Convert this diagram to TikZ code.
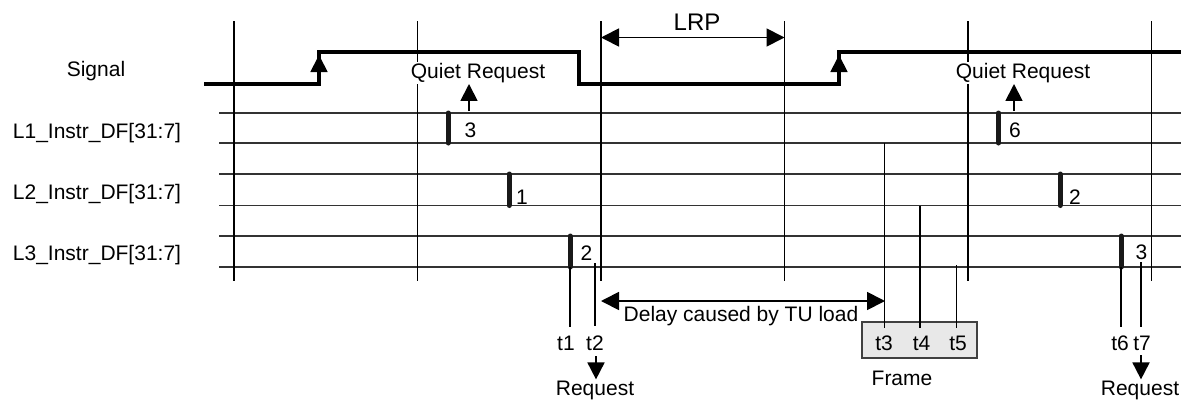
\documentclass[tikz,border=0pt]{standalone}
\usepackage{fontspec}
\setmainfont{Liberation Sans}
\usepackage{tikz}
\usetikzlibrary{arrows.meta, positioning}

\tikzset{
    lbl/.style={font=\fontsize{21}{25}\selectfont, inner sep=1pt},
    gridline/.style={line width=1.8pt},
    lane/.style={line width=1.8pt, black!80},
    sig/.style={line width=4pt, line join=miter},
    pulse/.style={line width=5pt, line cap=round, black!90},
    tip/.style={-{Triangle[width=17pt, length=17pt]}, line width=1.8pt},
    dtip/.style={{Triangle[width=18pt, length=18pt]}-{Triangle[width=18pt, length=18pt]}, line width=1.8pt},
}

\begin{document}
\begin{tikzpicture}[x=1pt, y=-1pt]
    \useasboundingbox (0,0) rectangle (1181,402);

    % 通道线
    \foreach \y in {113, 143, 174, 205.5, 236, 267}
        \draw[lane] (219,\y) -- (1181,\y);

    % 竖直网格
    \foreach \x in {234, 417.5, 601, 784.5, 968, 1151.5}
        \draw[gridline] (\x,21) -- (\x,281);

    % 左侧标签
    \node[lbl] (sig) at (96,71) {Signal};
    \node[lbl] (l1) at (97,133) {L1\_Instr\_DF[31:7]};
    \node[lbl] (l2) at (97,194) {L2\_Instr\_DF[31:7]};
    \node[lbl] (l3) at (97,255) {L3\_Instr\_DF[31:7]};

    % 信号
    \draw[sig] (204,84) -- (319,84) -- (319,52) -- (579,52) -- (579,84)
        -- (839,84) -- (839,52) -- (1181,52);
    \draw[tip] (319,80) -- (319,55);
    \draw[tip] (839,80) -- (839,55);

    % LRP
    \draw[dtip] (601,37.5) -- (784.5,37.5);
    \node[font=\fontsize{24}{28}\selectfont] (lrp) at (697,22.5) {LRP};

    % Quiet Request
    \node[lbl, fill=white] (qr1) at (478,73) {Quiet Request};
    \node[lbl, fill=white] (qr2) at (1023,73) {Quiet Request};
    \coordinate (q1) at (469,111);
    \coordinate (q2) at (1014,111);
    \draw[tip] (q1) -- (q1 |- qr1.south);
    \draw[tip] (q2) -- (q2 |- qr2.south);

    % 脉冲
    \draw[pulse] (448,113) -- (448,143);
    \node[lbl] (n1) at (470.5,130) {3};
    \draw[pulse] (509,174) -- (509,205.5);
    \node[lbl] (n2) at (522,197) {1};
    \draw[pulse] (570,236) -- (570,267);
    \node[lbl] (n3) at (586.5,253.5) {2};
    \draw[pulse] (998.5,113) -- (998.5,143);
    \node[lbl] (n4) at (1015,130) {6};
    \draw[pulse] (1060,174) -- (1060,205.5);
    \node[lbl] (n5) at (1075,197) {2};
    \draw[pulse] (1121,236) -- (1121,267);
    \node[lbl] (n6) at (1141.5,252.5) {3};

    % Frame
    \node[draw=black!75, fill=black!9, line width=1.8pt, minimum width=115pt,
        minimum height=36pt, inner sep=0pt] (frame) at (919.5,340) {};
    \node[lbl] (fr) at (902,378) {Frame};

    % 时刻
    \draw[gridline] (570,267) -- (570,327);
    \draw[gridline] (595,263) -- (595,326);
    \draw[gridline] (884.5,143) -- (884.5,328);
    \draw[gridline] (920,205.5) -- (920,328);
    \draw[gridline] (956.5,265) -- (956.5,328);
    \draw[gridline] (1121,267) -- (1121,327);
    \draw[gridline] (1141,262) -- (1141,327);
    \node[lbl] (t1) at (566,343) {t1};
    \node[lbl] (t2) at (595,343) {t2};
    \node[lbl] (t3) at (884,343) {t3};
    \node[lbl] (t4) at (921.5,343) {t4};
    \node[lbl] (t5) at (958,343) {t5};
    \node[lbl] (t6) at (1120,343) {t6};
    \node[lbl] (t7) at (1142,343) {t7};

    % Delay
    \draw[dtip] (601,301) -- (885,301);
    \node[lbl] (delay) at (741,316) {Delay caused by TU load};

    % Request
    \node[lbl] (req1) at (595,390) {Request};
    \node[lbl] (req2) at (1140,390) {Request};
    \coordinate (r1) at (596,356);
    \coordinate (r2) at (1141,355);
    \draw[tip] (r1) -- (r1 |- req1.north);
    \draw[tip] (r2) -- (r2 |- req2.north);
\end{tikzpicture}
\end{document}
